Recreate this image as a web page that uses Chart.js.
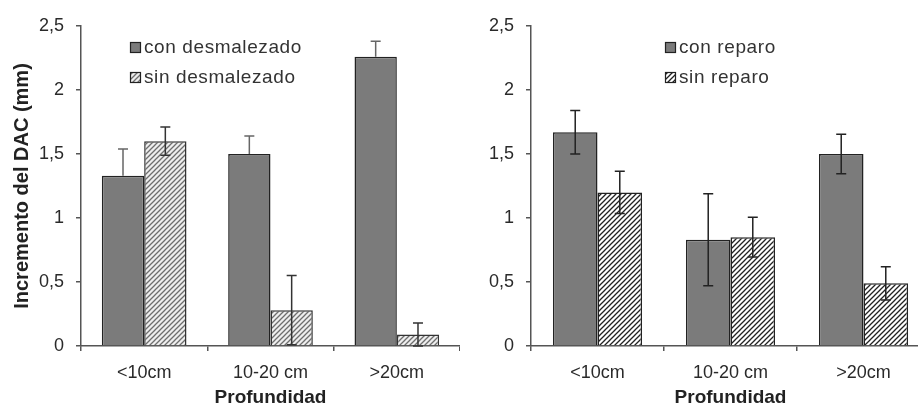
<!DOCTYPE html>
<html>
<head>
<meta charset="utf-8">
<script src="https://cdn.jsdelivr.net/npm/chart.js@4.4.0/dist/chart.umd.min.js"></script>
<style>
  body { margin: 0; background: #fff; }
  #wrap { position: relative; width: 918px; height: 405px; overflow: hidden; }
  canvas { position: absolute; top: 0; }
  #desmalezado { left: 0; }
  #reparo { left: 460px; }
</style>
</head>
<body>
<div id="wrap">
  <canvas id="desmalezado" width="460" height="412"></canvas>
  <canvas id="reparo" width="470" height="412"></canvas>
</div>
<script>
const categories = ['<10cm', '10-20 cm', '>20cm']

const conDesmalezado = [1.33, 1.50, 2.26]
const conDesmalezadoErr = [0.21, 0.14, 0.12]
const sinDesmalezado = [1.60, 0.28, 0.09]
const sinDesmalezadoErr = [0.11, 0.27, 0.09]

const conReparo = [1.67, 0.83, 1.50]
const conReparoErr = [0.17, 0.36, 0.155]
const sinReparo = [1.20, 0.85, 0.49]
const sinReparoErr = [0.165, 0.155, 0.13]

const yMin = 0
const yMax = 2.5
const yStep = 0.5

const FONT = "'Liberation Sans', Arial, sans-serif"
const AXIS = '#555'
const SOLID = '#7b7b7b'

function hatch(canvasId, bg, line, lw) {
  const s = 5
  const tile = document.createElement('canvas')
  tile.width = s
  tile.height = s
  const c = tile.getContext('2d')
  c.fillStyle = bg
  c.fillRect(0, 0, s, s)
  c.strokeStyle = line
  c.lineWidth = lw
  c.beginPath()
  c.moveTo(-1, s + 1); c.lineTo(s + 1, -1)
  c.moveTo(-1, 1); c.lineTo(1, -1)
  c.moveTo(s - 1, s + 1); c.lineTo(s + 1, s - 1)
  c.stroke()
  return document.getElementById(canvasId).getContext('2d').createPattern(tile, 'repeat')
}

// error bars drawn from each bar's position and the y scale
const errorBars = {
  id: 'errorBars',
  afterDatasetsDraw(chart) {
    const ctx = chart.ctx
    const y = chart.scales.y
    chart.data.datasets.forEach((ds, i) => {
      const meta = chart.getDatasetMeta(i)
      ctx.save()
      ctx.strokeStyle = ds.errorColor
      ctx.lineWidth = 1.5
      meta.data.forEach((bar, j) => {
        const v = ds.data[j]
        const e = ds.errors[j]
        const top = y.getPixelForValue(v + e)
        const bot = ds.errorLower === false ? y.getPixelForValue(v) : y.getPixelForValue(Math.max(0, v - e))
        ctx.beginPath()
        ctx.moveTo(bar.x, top); ctx.lineTo(bar.x, bot)
        ctx.moveTo(bar.x - 5, top); ctx.lineTo(bar.x + 5, top)
        if (ds.errorLower !== false) {
          ctx.moveTo(bar.x - 5, bot); ctx.lineTo(bar.x + 5, bot)
        }
        ctx.stroke()
      })
      ctx.restore()
    })
  }
}

// legend inside the plot, small square swatches
const swatchLegend = {
  id: 'swatchLegend',
  afterDraw(chart, args, opts) {
    const ctx = chart.ctx
    const x0 = chart.chartArea.left + opts.offsetX
    ctx.save()
    ctx.font = '19px ' + FONT
    ctx.textBaseline = 'middle'
    if ('letterSpacing' in ctx) ctx.letterSpacing = '0.6px'
    chart.data.datasets.forEach((ds, i) => {
      const yc = opts.top + i * opts.rowGap
      ctx.fillStyle = ds.backgroundColor
      ctx.fillRect(x0, yc - 5, 11, 11)
      ctx.strokeStyle = '#222'
      ctx.lineWidth = 1.2
      ctx.strokeRect(x0 + 0.5, yc - 4.5, 10, 10)
      ctx.fillStyle = '#333'
      ctx.fillText(ds.label, x0 + 14, yc + 1)
    })
    ctx.restore()
  }
}

function commaTick(v) {
  return String(v).replace('.', ',')
}

function makeChart(id, datasets, yTitle, yWidth, legendX) {
  return new Chart(document.getElementById(id), {
    type: 'bar',
    data: { labels: categories, datasets: datasets },
    plugins: [errorBars, swatchLegend],
    options: {
      responsive: false,
      animation: false,
      devicePixelRatio: 1,
      layout: { padding: { top: 26, left: 0, right: 0, bottom: 0 } },
      datasets: { bar: { categoryPercentage: 0.67, barPercentage: 1 } },
      plugins: {
        legend: { display: false },
        tooltip: { enabled: false },
        swatchLegend: { offsetX: legendX, top: 47, rowGap: 30 }
      },
      scales: {
        x: {
          afterFit(scale) { scale.height = 66 },
          grid: { display: true, drawOnChartArea: false, tickLength: 5, color: AXIS, lineWidth: 1.5 },
          border: { display: true, color: AXIS, width: 1.5 },
          ticks: { color: '#2a2a2a', padding: 11, font: { family: FONT, size: 18 } },
          title: {
            display: true, text: 'Profundidad', color: '#222',
            padding: { top: 0, bottom: 3 },
            font: { family: FONT, size: 19, weight: 'bold' }
          }
        },
        y: {
          min: yMin,
          max: yMax,
          afterFit(scale) { scale.width = yWidth },
          grid: { display: true, drawOnChartArea: false, tickLength: 5, color: AXIS, lineWidth: 1.5 },
          border: { display: true, color: AXIS, width: 1.5 },
          ticks: {
            stepSize: yStep, color: '#2a2a2a', padding: 12,
            font: { family: FONT, size: 18 },
            callback: commaTick
          },
          title: {
            display: !!yTitle, text: yTitle, color: '#222',
            padding: { top: 10, bottom: 0 },
            font: { family: FONT, size: 20, weight: 'bold' }
          }
        }
      }
    }
  })
}

makeChart('desmalezado', [
  {
    label: 'con desmalezado', data: conDesmalezado, errors: conDesmalezadoErr,
    backgroundColor: SOLID, borderColor: '#222', borderWidth: 1.5,
    errorColor: '#666', errorLower: false
  },
  {
    label: 'sin desmalezado', data: sinDesmalezado, errors: sinDesmalezadoErr,
    backgroundColor: hatch('desmalezado', '#eeeeee', '#6e6e6e', 1.3),
    borderColor: '#333', borderWidth: 1.5, errorColor: '#333'
  }
], 'Incremento del DAC (mm)', 81, 49)

makeChart('reparo', [
  {
    label: 'con reparo', data: conReparo, errors: conReparoErr,
    backgroundColor: SOLID, borderColor: '#222', borderWidth: 1.5, errorColor: '#222'
  },
  {
    label: 'sin reparo', data: sinReparo, errors: sinReparoErr,
    backgroundColor: hatch('reparo', '#ffffff', '#222222', 1.3),
    borderColor: '#222', borderWidth: 1.5, errorColor: '#222'
  }
], '', 71, 134)
</script>
</body>
</html>
